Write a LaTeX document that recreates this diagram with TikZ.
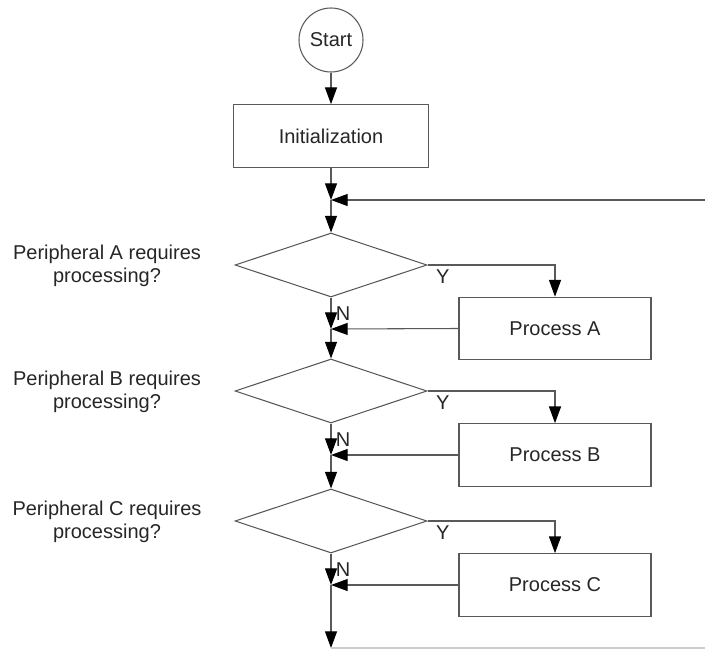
\documentclass[tikz,border=0pt]{standalone}
\usepackage{fontspec}
\setmainfont{Liberation Sans}
\usetikzlibrary{shapes.geometric}
\usetikzlibrary{arrows.meta}
\tikzset{>={Triangle[length=12.5pt, width=9pt, color=black]}}
\tikzset{line/.style={draw=black!65, line width=0.8pt}}
\tikzset{term/.style={circle, line, minimum size=48pt, inner sep=0pt}}
\tikzset{proc/.style={rectangle, line, minimum width=144pt, minimum height=47pt}}
\tikzset{dec/.style={diamond, line, minimum width=144pt, minimum height=48pt, inner sep=0pt}}
\tikzset{query/.style={align=center}}

\begin{document}
\begin{tikzpicture}[x=0.75pt, y=-0.75pt, font=\fontsize{15pt}{17.5pt}\selectfont, text=black!85]
    \useasboundingbox(0, 0)rectangle(705, 649);
    \node[term](start)at(331, 40){Start};
    \node[proc, minimum width=146pt](init)at(331, 136){Initialization};
    \coordinate(j0)at(331, 200);
    \coordinate(loop)at(705, 200);
    \node[dec](decA)at(331, 265){};
    \node[query](askA)at(107, 266){Peripheral A requires\\processing?};
    \node[proc](procA)at(555, 328.5){Process A};
    \coordinate(jA)at(331, 329);
    \node[dec](decB)at(331, 391){};
    \node[query](askB)at(107, 392){Peripheral B requires\\processing?};
    \node[proc](procB)at(555, 455){Process B};
    \coordinate(jB)at(331, 455);
    \node[dec](decC)at(331, 521){};
    \node[query](askC)at(107, 522){Peripheral C requires\\processing?};
    \node[proc](procC)at(555, 585){Process C};
    \coordinate(jC)at(331, 585);
    \coordinate(stop)at(331, 648);
    \coordinate(edge)at(705, 648);
    \draw[line, ->](start)--(init);
    \draw[line, ->](init)--(j0);
    \draw[line, ->](loop)--(j0);
    \draw[line, ->](j0)--(decA.north);
    \draw[line, ->](decA.east)-|(procA.north)node[pos=.06, below]{Y};
    \draw[line, ->](decA.south)--(jA)node[midway, right]{N};
    \draw[line, ->](procA.west)--(jA);
    \draw[line, ->](jA)--(decB.north);
    \draw[line, ->](decB.east)-|(procB.north)node[pos=.06, below]{Y};
    \draw[line, ->](decB.south)--(jB)node[midway, right]{N};
    \draw[line, ->](procB.west)--(jB);
    \draw[line, ->](jB)--(decC.north);
    \draw[line, ->](decC.east)-|(procC.north)node[pos=.06, below]{Y};
    \draw[line, ->](decC.south)--(jC)node[midway, right]{N};
    \draw[line, ->](procC.west)--(jC);
    \draw[line, ->](jC)--(stop);
    \draw[black!20, line width=0.8pt](stop)--(edge);
\end{tikzpicture}
\end{document}
